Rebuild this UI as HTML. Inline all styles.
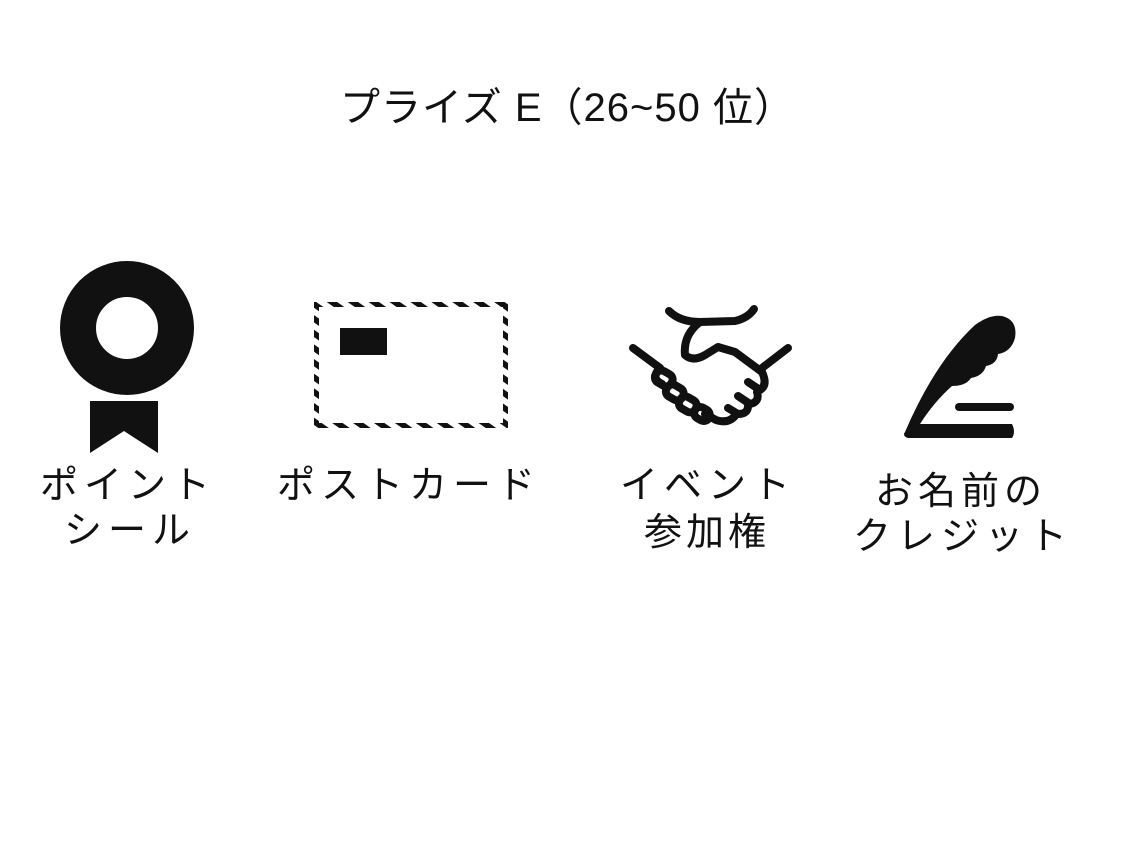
<!DOCTYPE html>
<html><head><meta charset="utf-8"><style>
html,body{margin:0;padding:0;background:#fff;}
body{width:1136px;height:850px;position:relative;overflow:hidden;font-family:"Liberation Sans","Noto Sans CJK JP",sans-serif;color:#111;}
.t{position:absolute;white-space:nowrap;line-height:1;text-align:center;}
</style></head><body>
<div class="t" style="left:335px;top:88px;width:465px;font-size:40px;letter-spacing:1px;">プライズ E（26~50 位）</div>

<div class="t" style="left:40px;top:467px;width:176px;font-size:38px;letter-spacing:6px;">ポイント</div>
<div class="t" style="left:60px;top:512px;width:140px;font-size:38px;letter-spacing:6px;">シール</div>
<div class="t" style="left:276px;top:467px;width:266px;font-size:38px;letter-spacing:6px;">ポストカード</div>
<div class="t" style="left:620px;top:467px;width:176px;font-size:38px;letter-spacing:6px;">イベント</div>
<div class="t" style="left:638px;top:514px;width:138px;font-size:38px;letter-spacing:4px;">参加権</div>
<div class="t" style="left:872px;top:473px;width:178px;font-size:38px;letter-spacing:5px;">お名前の</div>
<div class="t" style="left:852px;top:518px;width:222px;font-size:38px;letter-spacing:6px;">クレジット</div>

<svg width="1136" height="850" style="position:absolute;left:0;top:0" xmlns="http://www.w3.org/2000/svg">
 <defs>
  <pattern id="hatch" width="12" height="12" patternUnits="userSpaceOnUse" patternTransform="rotate(-55)">
   <rect width="6" height="12" fill="#111"/>
  </pattern>
 </defs>
 <circle cx="127" cy="328" r="49" fill="none" stroke="#111" stroke-width="36"/>
 <polygon points="90,401 158,401 158,453 124,431 90,453" fill="#111"/>
 <rect x="316.5" y="304.5" width="189" height="121" fill="none" stroke="url(#hatch)" stroke-width="5"/>
 <rect x="340" y="328" width="47" height="27" fill="#111"/>
 <g fill="none" stroke="#111" stroke-width="8" stroke-linecap="round" stroke-linejoin="round">
  <path d="M669,311 Q680,322 700,322 L735,321 Q748,318 754,309"/>
  <path d="M633,348 L660,368"/>
  <path d="M788,348 L762,368"/>
  <path d="M700,322 Q683,335 685,355 Q693,362 705,355 L718,347 L735,352 L762,372"/>
  <path d="M762,372 Q768,385 760,390 L748,382 M757,392 Q760,402 750,404 L738,396 M748,406 Q748,414 738,414 L728,408 M735,416 Q728,424 716,420 L705,414"/>
  <path d="M660,368 Q650,378 662,384"/>
  <rect x="655" y="372" width="18" height="13" rx="6" transform="rotate(30 664 378)"/>
  <rect x="666" y="386" width="18" height="13" rx="6" transform="rotate(30 675 392)"/>
  <rect x="679" y="398" width="18" height="13" rx="6" transform="rotate(30 688 404)"/>
  <rect x="694" y="408" width="16" height="12" rx="6" transform="rotate(30 702 414)"/>
 </g>
 <path d="M905,432 Q935,362 975,325 Q990,314 1002,316 Q1018,320 1015,338 Q1011,352 998,354 Q997,364 986,366 Q983,376 971,378 Q966,386 952,386 Q934,402 920,424 L1012,424 Q1016,432 1012,438 L908,438 Q902,436 905,432 Z" fill="#111"/>
 <line x1="959" y1="407" x2="1010" y2="407" stroke="#111" stroke-width="8" stroke-linecap="round"/>
</svg>
</body></html>
